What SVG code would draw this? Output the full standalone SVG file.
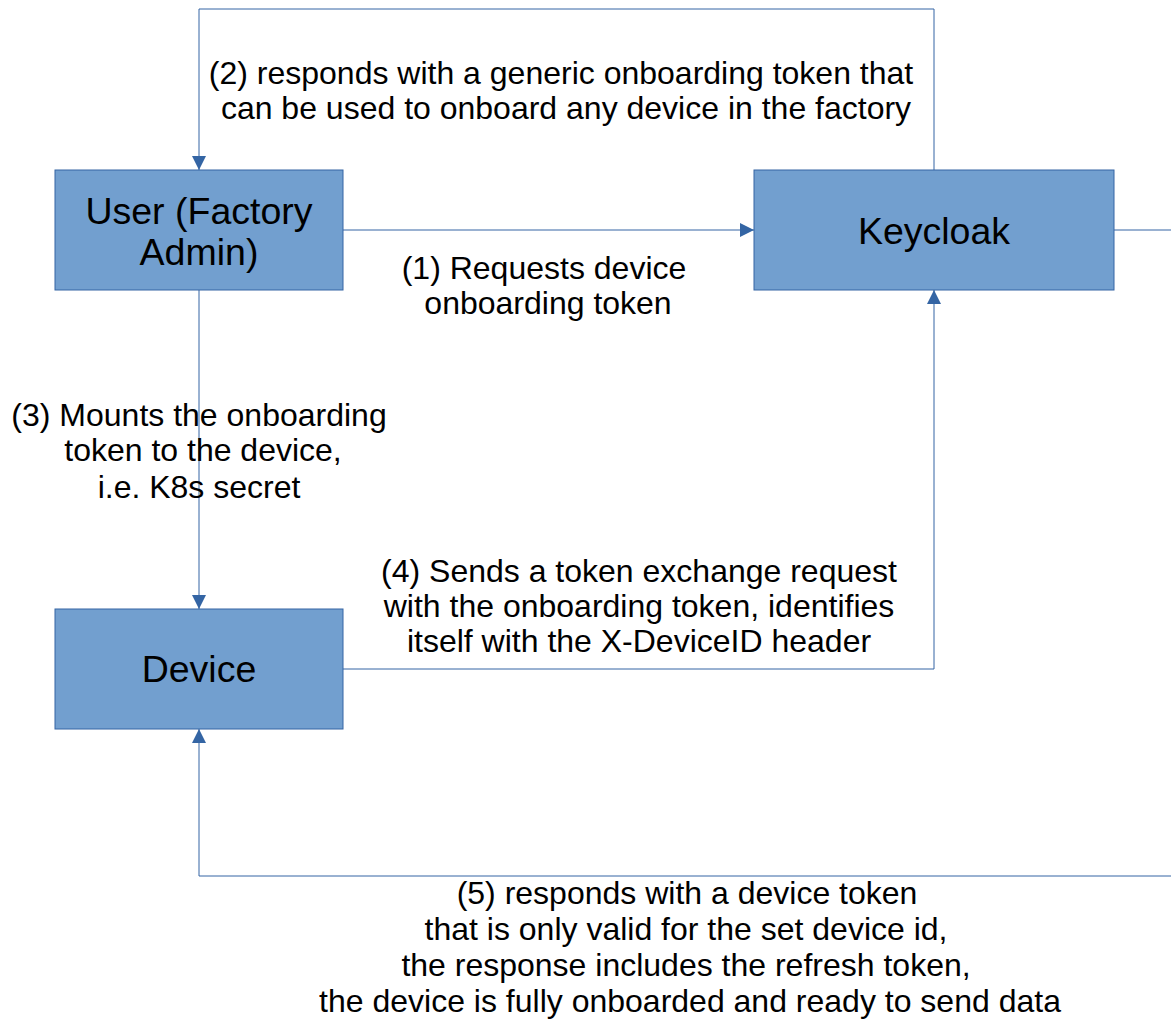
<svg xmlns="http://www.w3.org/2000/svg" width="1171" height="1019" viewBox="0 0 1171 1019">
<style>
.box{fill:#729fcf;stroke:#3465a4;stroke-width:1}
.bt{font-family:"Liberation Sans",Arial,sans-serif;font-size:37.5px;fill:#000;text-anchor:middle}
.lt{font-family:"Liberation Sans",Arial,sans-serif;font-size:32px;fill:#000;text-anchor:middle}
.c{fill:none;stroke:#3465a4;stroke-width:1}
</style>
<defs>
<marker id="ah" viewBox="0 0 10 10" refX="10" refY="5" markerWidth="14" markerHeight="14" markerUnits="userSpaceOnUse" orient="auto">
<path d="M0,0 L10,5 L0,10 z" fill="#3465a4"/>
</marker>
</defs>
<rect width="1171" height="1019" fill="#fff"/>
<g id="connectors">
<path class="c" d="M343,230 H754" marker-end="url(#ah)"/>
<path class="c" d="M934,170 V9 H199 V170" marker-end="url(#ah)"/>
<path class="c" d="M199,290 V609" marker-end="url(#ah)"/>
<path class="c" d="M343,669 H934 V290" marker-end="url(#ah)"/>
<path class="c" d="M1114,230 H1190 V876 H199 V729" marker-end="url(#ah)"/>
</g>
<g id="labels">
<text class="lt" x="561" y="84">(2) responds with a generic onboarding token that</text>
<text class="lt" x="566" y="119">can be used to onboard any device in the factory</text>
<text class="lt" x="544" y="279">(1) Requests device</text>
<text class="lt" x="548" y="314">onboarding token</text>
<text class="lt" x="199" y="426">(3) Mounts the onboarding</text>
<text class="lt" x="203" y="461">token to the device,</text>
<text class="lt" x="199" y="498">i.e. K8s secret</text>
<text class="lt" x="639" y="582">(4) Sends a token exchange request</text>
<text class="lt" x="639" y="617">with the onboarding token, identifies</text>
<text class="lt" x="639" y="652">itself with the X-DeviceID header</text>
<text class="lt" x="687" y="904">(5) responds with a device token</text>
<text class="lt" x="686" y="940">that is only valid for the set device id,</text>
<text class="lt" x="686" y="976">the response includes the refresh token,</text>
<text class="lt" x="690" y="1012">the device is fully onboarded and ready to send data</text>
</g>
<g id="user">
<rect class="box" x="55" y="170" width="288" height="120"/>
<text class="bt" x="199" y="224">User (Factory</text>
<text class="bt" x="199" y="265">Admin)</text>
</g>
<g id="keycloak">
<rect class="box" x="754" y="170" width="360" height="120"/>
<text class="bt" x="934" y="244">Keycloak</text>
</g>
<g id="device">
<rect class="box" x="55" y="609" width="288" height="120"/>
<text class="bt" x="199" y="682">Device</text>
</g>
</svg>
